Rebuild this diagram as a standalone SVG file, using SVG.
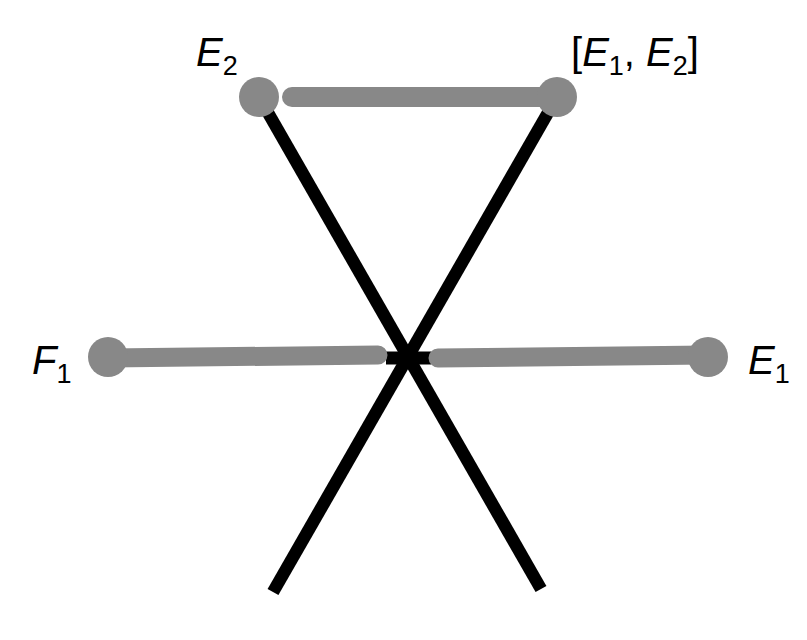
<svg xmlns="http://www.w3.org/2000/svg" width="807" height="640" viewBox="0 0 807 640">
<style>
.blk{stroke:#000;stroke-width:12.5;fill:none;stroke-linecap:butt}
.gry{stroke:#888;stroke-width:19;fill:none;stroke-linecap:round}
.node{fill:#888}
.lbl{font-family:"Liberation Sans",Arial,sans-serif;font-size:40px;fill:#000}
.it{font-style:italic}
.sub{font-size:27px}
</style>
<rect width="807" height="640" fill="#fff"/>
<g id="connectors">
<line class="blk" x1="259" y1="97" x2="541" y2="589"/>
<line class="blk" x1="557" y1="97" x2="273" y2="592"/>
<line x1="386" y1="358" x2="431" y2="358" stroke="#000" stroke-width="13"/>
<line class="gry" x1="292" y1="97" x2="557" y2="97" style="stroke-width:20"/>
<line class="gry" x1="109" y1="358" x2="378" y2="355"/>
<line class="gry" x1="438" y1="358" x2="708" y2="355"/>
</g>
<g id="E2">
<circle class="node" cx="259" cy="97" r="20"/>
<text class="lbl" x="196" y="66"><tspan class="it">E</tspan><tspan class="sub" dy="9">2</tspan></text>
</g>
<g id="E1E2">
<circle class="node" cx="557" cy="97" r="20"/>
<text class="lbl" x="571" y="66">[<tspan class="it">E</tspan><tspan class="sub" dy="9">1</tspan><tspan dy="-9">, </tspan><tspan class="it">E</tspan><tspan class="sub" dy="9">2</tspan><tspan dy="-9">]</tspan></text>
</g>
<g id="F1">
<circle class="node" cx="108" cy="357" r="20"/>
<text class="lbl" x="32" y="374"><tspan class="it">F</tspan><tspan class="sub" dy="9">1</tspan></text>
</g>
<g id="E1">
<circle class="node" cx="708" cy="357" r="20"/>
<text class="lbl" x="748" y="374"><tspan class="it">E</tspan><tspan class="sub" dy="9">1</tspan></text>
</g>
</svg>
